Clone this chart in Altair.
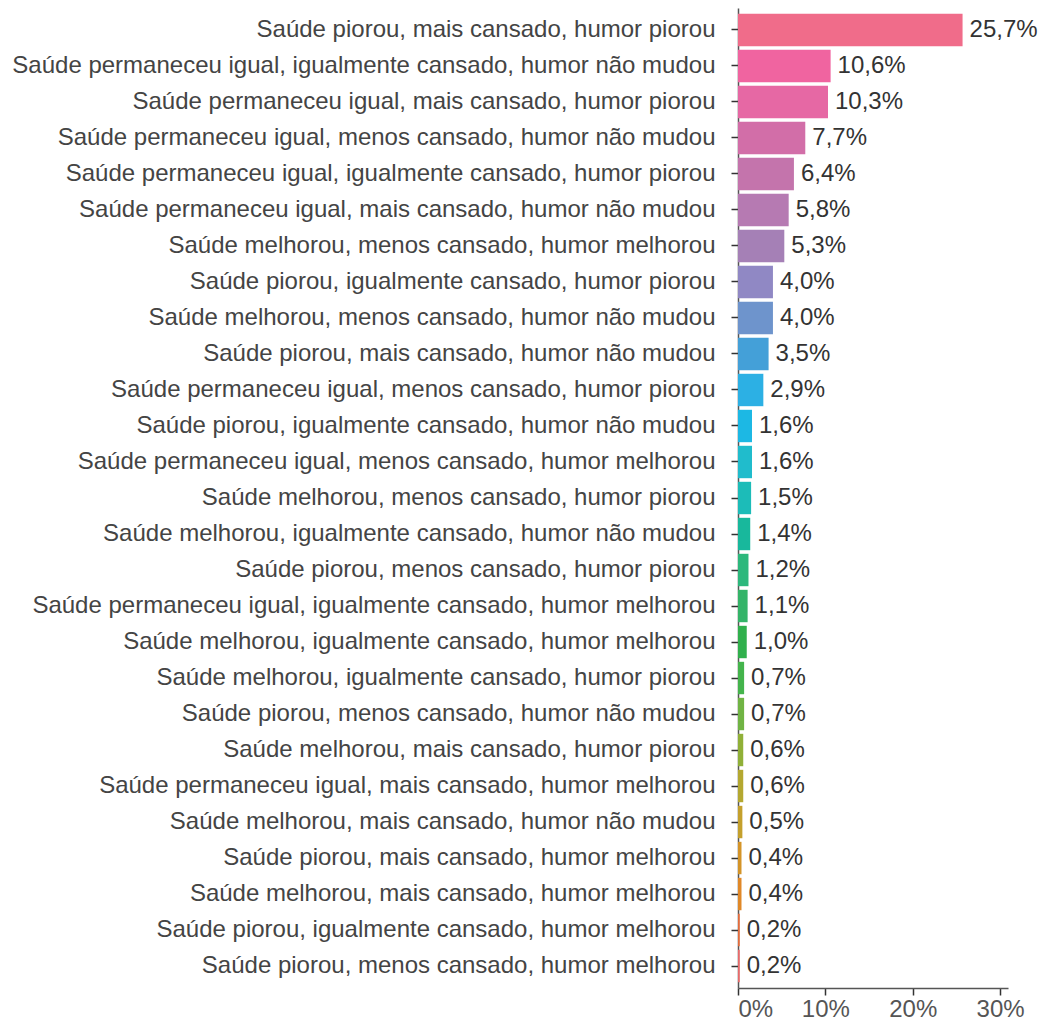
import altair as alt
import pandas as pd

categories = [
    "Saúde piorou, mais cansado, humor piorou",
    "Saúde permaneceu igual, igualmente cansado, humor não mudou",
    "Saúde permaneceu igual, mais cansado, humor piorou",
    "Saúde permaneceu igual, menos cansado, humor não mudou",
    "Saúde permaneceu igual, igualmente cansado, humor piorou",
    "Saúde permaneceu igual, mais cansado, humor não mudou",
    "Saúde melhorou, menos cansado, humor melhorou",
    "Saúde piorou, igualmente cansado, humor piorou",
    "Saúde melhorou, menos cansado, humor não mudou",
    "Saúde piorou, mais cansado, humor não mudou",
    "Saúde permaneceu igual, menos cansado, humor piorou",
    "Saúde piorou, igualmente cansado, humor não mudou",
    "Saúde permaneceu igual, menos cansado, humor melhorou",
    "Saúde melhorou, menos cansado, humor piorou",
    "Saúde melhorou, igualmente cansado, humor não mudou",
    "Saúde piorou, menos cansado, humor piorou",
    "Saúde permaneceu igual, igualmente cansado, humor melhorou",
    "Saúde melhorou, igualmente cansado, humor melhorou",
    "Saúde melhorou, igualmente cansado, humor piorou",
    "Saúde piorou, menos cansado, humor não mudou",
    "Saúde melhorou, mais cansado, humor piorou",
    "Saúde permaneceu igual, mais cansado, humor melhorou",
    "Saúde melhorou, mais cansado, humor não mudou",
    "Saúde piorou, mais cansado, humor melhorou",
    "Saúde melhorou, mais cansado, humor melhorou",
    "Saúde piorou, igualmente cansado, humor melhorou",
    "Saúde piorou, menos cansado, humor melhorou",
]

values = [25.7, 10.6, 10.3, 7.7, 6.4, 5.8, 5.3, 4.0, 4.0, 3.5, 2.9, 1.6, 1.6,
          1.5, 1.4, 1.2, 1.1, 1.0, 0.7, 0.7, 0.6, 0.6, 0.5, 0.4, 0.4, 0.2, 0.2]

colors = [
    "#F06C8A", "#F064A0", "#E668A4", "#D26EA8", "#C474AC", "#B67AB2",
    "#A580B6", "#9088C4", "#6E94CC", "#44A0D8", "#2CB0E4", "#1CB8E4",
    "#20BCCC", "#1CBCB8", "#18B89C", "#2CB87C", "#34B468", "#30B04C",
    "#44B44C", "#70B444", "#90B038", "#B4A830", "#C4A02C", "#D49428",
    "#E08828", "#E46C3C", "#E86A6A",
]

x_ticks = [0, 10, 20, 30]

df = pd.DataFrame({"cat": categories, "pct": values})

FONT = "Liberation Sans"

base = alt.Chart(df).encode(
    y=alt.Y(
        "cat:N",
        sort=categories,
        title=None,
        scale=alt.Scale(paddingInner=0.1, paddingOuter=0.16),
        axis=alt.Axis(
            labelFont=FONT,
            labelFontSize=24,
            labelColor="#444444",
            labelPadding=16,
            labelLimit=1000,
            tickSize=7,
            tickColor="#333333",
            tickWidth=1.5,
            domainColor="#555555",
            domainWidth=1.5,
            grid=False,
        ),
    ),
    x=alt.X(
        "pct:Q",
        title=None,
        scale=alt.Scale(domain=[0, 30.9], nice=False),
        axis=alt.Axis(
            values=x_ticks,
            labelExpr="datum.value + '%'",
            labelFont=FONT,
            labelFontSize=24,
            labelColor="#555555",
            labelPadding=2,
            tickSize=7,
            tickColor="#333333",
            tickWidth=1.5,
            domainColor="#555555",
            domainWidth=1.5,
            grid=False,
        ),
    ),
)

bars = base.mark_bar().encode(
    color=alt.Color("cat:N", scale=alt.Scale(domain=categories, range=colors), legend=None)
)

labels = base.mark_text(
    align="left", baseline="middle", dx=7, font=FONT, fontSize=24, color="#333333"
).transform_calculate(
    lab="replace(format(datum.pct, '.1f'), '.', ',') + '%'"
).encode(text="lab:N")

chart = (
    (bars + labels)
    .properties(
        width=270,
        height=980,
        background="white",
        autosize=alt.AutoSizeParams(type="none"),
        padding={"left": 730, "top": 0, "right": 30, "bottom": 37},
    )
    .configure_view(strokeWidth=0, stroke="transparent")
)

chart.save("out.html", embed_options={"renderer": "svg", "actions": False})
